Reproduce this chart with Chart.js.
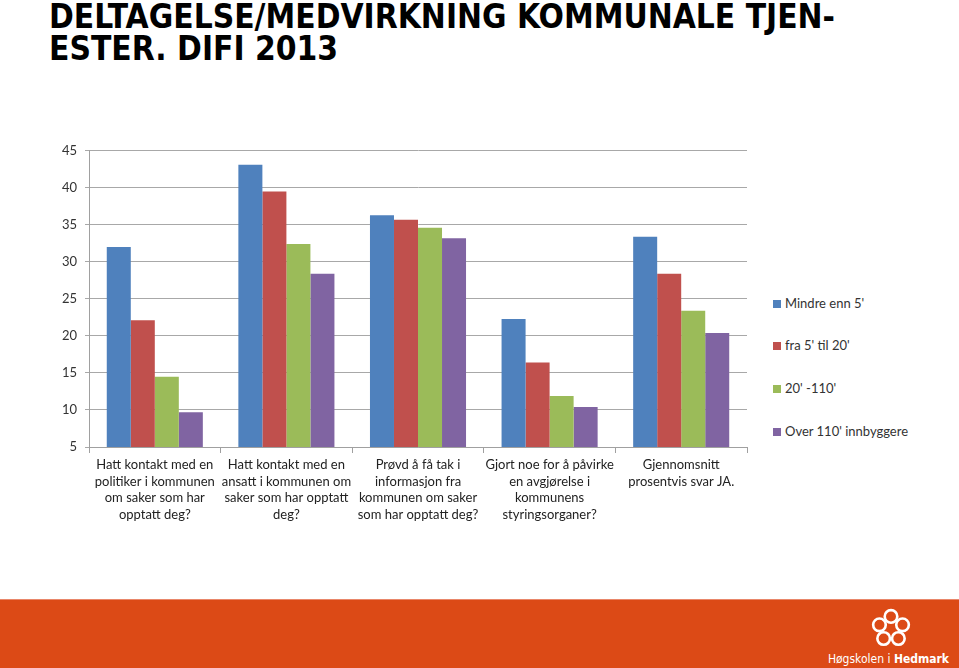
<!DOCTYPE html>
<html>
<head>
<meta charset="utf-8">
<script src="https://cdn.jsdelivr.net/npm/chart.js@4.4.1/dist/chart.umd.min.js"></script>
<style>
    body { margin: 0; width: 959px; height: 668px; background: #fff; overflow: hidden; position: relative; font-family: Lato, 'Open Sans', sans-serif; }
    #title {
        position: absolute; left: 49px; top: 0px;
        font-family: 'DejaVu Sans', sans-serif; font-stretch: condensed;
        font-weight: bold; font-size: 34px; line-height: 32px; color: #000;
        white-space: nowrap; transform-origin: 0 0;
    }
    #chartWrap { position: absolute; left: 0; top: 135px; width: 760px; height: 405px; }
    #legend { position: absolute; left: 773px; top: 0; }
    .legend-item { position: absolute; white-space: nowrap; font-size: 13px; color: #333; }
    .legend-box { display: inline-block; width: 8px; height: 8px; margin-right: 4px; vertical-align: 0px; }
    #footer { position: absolute; left: 0; top: 599px; width: 959px; height: 69px; background: #dc4a16; border-top: 1px solid #e9876a; }
    #footerText { position: absolute; right: 10px; bottom: 3px; color: #fff; font-family: 'DejaVu Sans', sans-serif; font-stretch: condensed; font-size: 12px; }
    #logo { position: absolute; left: 870px; top: 7px; }
</style>
</head>
<body>
<div id="title"><span id="titleLine1">DELTAGELSE/MEDVIRKNING KOMMUNALE TJEN-</span><br>ESTER. DIFI 2013</div>
<div id="chartWrap"><canvas id="chart"></canvas></div>
<div id="legend"></div>
<div id="footer">
    <svg id="logo" width="42" height="42" viewBox="0 0 40 40" fill="none" stroke="#fff" stroke-width="2.5">
        <circle cx="20" cy="9" r="6"/>
        <circle cx="9" cy="17" r="6"/>
        <circle cx="31" cy="17" r="6"/>
        <circle cx="13" cy="30" r="6"/>
        <circle cx="27" cy="30" r="6"/>
    </svg>
    <div id="footerText">Høgskolen i <b>Hedmark</b></div>
</div>
<script>
// Categories (multi-line labels)
const categories = [
    ['Hatt kontakt med en', 'politiker i kommunen', 'om saker som har', 'opptatt deg?'],
    ['Hatt kontakt med en', 'ansatt i kommunen om', 'saker som har opptatt', 'deg?'],
    ['Prøvd å få tak i', 'informasjon fra', 'kommunen om saker', 'som har opptatt deg?'],
    ['Gjort noe for å påvirke', 'en avgjørelse i', 'kommunens', 'styringsorganer?'],
    ['Gjennomsnitt', 'prosentvis svar JA.']
];

const seriesNames = ["Mindre enn 5'", "fra 5' til 20'", "20' -110'", "Over 110' innbyggere"];
const seriesColors = ['#4f81bd', '#c0504d', '#9bbb59', '#8064a2'];

// Values
const mindreEnn5 = [32.0, 43.1, 36.3, 22.3, 33.4];
const fra5til20 = [22.1, 39.5, 35.7, 16.4, 28.4];
const fra20til110 = [14.5, 32.4, 34.6, 11.9, 23.4];
const over110 = [9.7, 28.4, 33.2, 10.4, 20.4];

const yTicks = [5, 10, 15, 20, 25, 30, 35, 40, 45];

const seriesValues = [mindreEnn5, fra5til20, fra20til110, over110];

// Fit title width to the original
const title = document.getElementById('title');
const line1 = document.getElementById('titleLine1');
const sx = 786 / line1.getBoundingClientRect().width;
title.style.transform = `scaleX(${sx})`;

// HTML legend
const legendTops = [295, 337, 380, 423];
const legend = document.getElementById('legend');
seriesNames.forEach((name, i) => {
    const item = document.createElement('div');
    item.className = 'legend-item';
    item.style.top = legendTops[i] + 'px';
    item.innerHTML = `<span class="legend-box" style="background:${seriesColors[i]}"></span>${name}`;
    legend.appendChild(item);
});

const ctx = document.getElementById('chart');
new Chart(ctx, {
    type: 'bar',
    data: {
        labels: categories,
        datasets: seriesValues.map((values, i) => ({
            label: seriesNames[i],
            data: values,
            backgroundColor: seriesColors[i],
            borderWidth: 0,
            categoryPercentage: 0.73,
            barPercentage: 1.0
        }))
    },
    options: {
        responsive: true,
        maintainAspectRatio: false,
        animation: false,
        layout: { padding: { top: 5, right: 13, bottom: 0, left: 0 } },
        plugins: {
            legend: { display: false },
            tooltip: { enabled: false }
        },
        scales: {
            x: {
                afterFit: scale => { scale.height = 93; },
                grid: {
                    offset: true,
                    drawOnChartArea: false,
                    tickLength: 6,
                    color: '#a0a0a0'
                },
                border: { display: true, color: '#a0a0a0' },
                ticks: {
                    color: '#222',
                    padding: 3,
                    maxRotation: 0,
                    autoSkip: false,
                    font: { family: 'Lato', size: 13, lineHeight: 1.3 }
                }
            },
            y: {
                min: yTicks[0],
                max: yTicks[yTicks.length - 1],
                afterFit: scale => { scale.width = 89; },
                afterBuildTicks: scale => { scale.ticks = yTicks.map(v => ({ value: v })); },
                grid: {
                    color: '#a8a8a8',
                    tickLength: 4
                },
                border: { display: true, color: '#a0a0a0' },
                ticks: {
                    color: '#333',
                    padding: 8,
                    font: { family: 'Lato', size: 13 }
                }
            }
        }
    }
});
</script>
</body>
</html>
